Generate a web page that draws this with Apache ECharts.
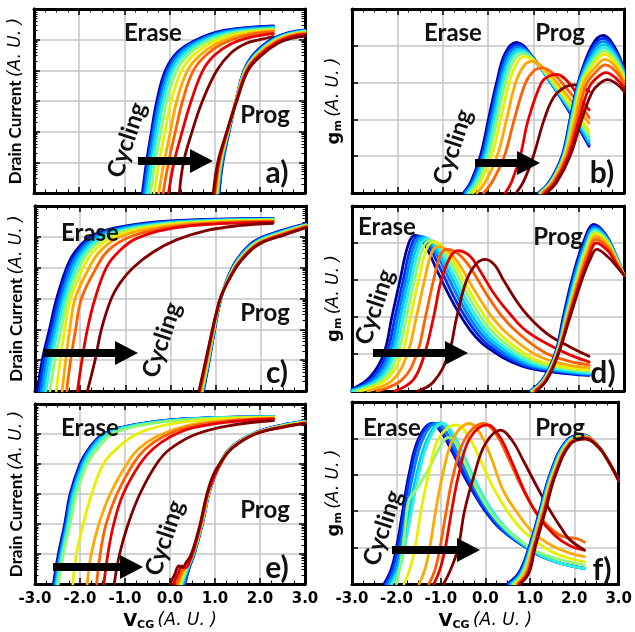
<!DOCTYPE html>
<html><head><meta charset="utf-8">
<script src="https://cdn.jsdelivr.net/npm/echarts@6/dist/echarts.min.js"></script>
<style>html,body{margin:0;padding:0;background:#fff}#c{width:635px;height:632px}</style>
</head><body><div id="c"></div>
<script>
const cycleColors = ['#00009c','#0030ff','#0080ff','#00c8ff','#30f0e0','#90f870','#e8f000','#ffa800','#ff6000','#e80000','#800000'];
const xTickLabels = ['-3.0','-2.0','-1.0','0.0','1.0','2.0','3.0'];

// Panel a: drain current (decades), erase / prog
const eraseA = [
 [[-0.60,0],[-0.51,1],[-0.40,2],[-0.28,3],[-0.09,4],[0.18,4.6],[0.6,5.0],[1.2,5.3],[2.3,5.45]],
 [[-0.58,0],[-0.49,1],[-0.38,2],[-0.25,3],[-0.06,4],[0.21,4.6],[0.63,4.99],[1.23,5.29],[2.3,5.43]],
 [[-0.55,0],[-0.46,1],[-0.35,2],[-0.22,3],[-0.02,4],[0.25,4.59],[0.67,4.98],[1.26,5.27],[2.3,5.41]],
 [[-0.52,0],[-0.42,1],[-0.31,2],[-0.18,3],[0.03,4],[0.3,4.58],[0.71,4.97],[1.3,5.25],[2.3,5.39]],
 [[-0.48,0],[-0.38,1],[-0.26,2],[-0.13,3],[0.08,4],[0.36,4.56],[0.77,4.95],[1.35,5.23],[2.3,5.37]],
 [[-0.42,0],[-0.32,1],[-0.19,2],[-0.06,3],[0.16,4],[0.44,4.54],[0.84,4.93],[1.41,5.21],[2.3,5.35]],
 [[-0.34,0],[-0.23,1],[-0.10,2],[0.04,3],[0.27,4],[0.55,4.52],[0.93,4.9],[1.48,5.18],[2.3,5.32]],
 [[-0.24,0],[-0.12,1],[0.02,2],[0.16,3],[0.40,4],[0.68,4.5],[1.04,4.87],[1.57,5.15],[2.3,5.29]],
 [[-0.14,0],[-0.02,1],[0.13,2],[0.29,3],[0.53,4],[0.81,4.5],[1.15,4.85],[1.65,5.12],[2.3,5.26]],
 [[-0.02,0],[0.10,1],[0.28,2],[0.48,3],[0.74,4],[1.0,4.5],[1.35,4.85],[1.8,5.08],[2.3,5.2]],
 [[0.22,0],[0.31,1],[0.50,2],[0.73,3],[1.05,4],[1.35,4.55],[1.7,4.88],[2.0,5.0],[2.3,5.1]]
];
const progA = [
 [[1.10,0],[1.18,1],[1.32,2],[1.47,3],[1.65,4],[1.88,4.55],[2.25,5.0],[2.62,5.22],[3.0,5.32]],
 [[1.09,0],[1.17,1],[1.31,2],[1.47,3],[1.66,4],[1.89,4.54],[2.26,4.99],[2.63,5.21],[3.0,5.31]],
 [[1.08,0],[1.16,1],[1.31,2],[1.47,3],[1.66,4],[1.9,4.53],[2.27,4.98],[2.64,5.2],[3.0,5.3]],
 [[1.07,0],[1.15,1],[1.30,2],[1.47,3],[1.67,4],[1.91,4.53],[2.28,4.97],[2.64,5.19],[3.0,5.29]],
 [[1.06,0],[1.14,1],[1.30,2],[1.47,3],[1.67,4],[1.92,4.52],[2.29,4.96],[2.65,5.18],[3.0,5.28]],
 [[1.05,0],[1.13,1],[1.29,2],[1.47,3],[1.68,4],[1.93,4.51],[2.3,4.95],[2.66,5.17],[3.0,5.26]],
 [[1.04,0],[1.12,1],[1.29,2],[1.47,3],[1.69,4],[1.94,4.5],[2.31,4.94],[2.67,5.15],[3.0,5.24]],
 [[1.02,0],[1.11,1],[1.28,2],[1.47,3],[1.70,4],[1.96,4.5],[2.33,4.93],[2.68,5.14],[3.0,5.22]],
 [[1.01,0],[1.10,1],[1.28,2],[1.48,3],[1.71,4],[1.97,4.49],[2.35,4.92],[2.69,5.12],[3.0,5.2]],
 [[0.99,0],[1.09,1],[1.27,2],[1.48,3],[1.72,4],[1.99,4.48],[2.37,4.9],[2.7,5.1],[3.0,5.17]],
 [[0.97,0],[1.07,1],[1.27,2],[1.49,3],[1.74,4],[2.02,4.47],[2.4,4.88],[2.72,5.05],[3.0,5.12]]
];

// Panel b: gm
const eraseB = [
 [[-0.54,0],[-0.38,0.3],[-0.17,1],[0.01,2],[0.19,3],[0.38,3.8],[0.63,4.09],[1.0,3.67],[1.44,2.9],[1.81,2.17],[2.23,1.27]],
 [[-0.52,0],[-0.36,0.3],[-0.14,1],[0.04,2],[0.22,3],[0.41,3.78],[0.65,4.03],[1.02,3.62],[1.46,2.86],[1.83,2.16],[2.23,1.3]],
 [[-0.50,0],[-0.33,0.3],[-0.11,1],[0.07,2],[0.25,3],[0.44,3.74],[0.67,3.97],[1.04,3.57],[1.48,2.83],[1.85,2.15],[2.23,1.34]],
 [[-0.47,0],[-0.30,0.3],[-0.08,1],[0.11,2],[0.29,3],[0.48,3.7],[0.70,3.91],[1.07,3.53],[1.5,2.82],[1.87,2.15],[2.23,1.4]],
 [[-0.44,0],[-0.27,0.3],[-0.04,1],[0.15,2],[0.33,3],[0.52,3.66],[0.73,3.85],[1.10,3.49],[1.52,2.81],[1.89,2.16],[2.23,1.47]],
 [[-0.40,0],[-0.22,0.3],[0.01,1],[0.20,2],[0.39,3],[0.58,3.62],[0.77,3.78],[1.14,3.45],[1.55,2.8],[1.91,2.18],[2.23,1.56]],
 [[-0.34,0],[-0.16,0.3],[0.08,1],[0.28,2],[0.47,3],[0.65,3.56],[0.82,3.7],[1.18,3.4],[1.58,2.8],[1.93,2.22],[2.23,1.68]],
 [[-0.25,0],[-0.06,0.3],[0.20,1],[0.41,2],[0.61,3],[0.80,3.47],[0.97,3.58],[1.3,3.3],[1.65,2.8],[1.97,2.3],[2.23,1.9]],
 [[-0.10,0],[0.09,0.3],[0.36,1],[0.58,2],[0.83,3],[1.02,3.33],[1.2,3.40],[1.48,3.2],[1.76,2.8],[2.03,2.4],[2.23,2.05]],
 [[0.38,0],[0.52,0.3],[0.71,1],[0.89,2],[1.18,3.0],[1.35,3.18],[1.52,3.22],[1.78,3.0],[1.98,2.65],[2.23,2.26]],
 [[0.62,0],[0.78,0.3],[1.0,1],[1.24,2],[1.45,2.6],[1.7,2.88],[1.92,2.94],[2.1,2.85],[2.23,2.76]]
];
const progB = [
 [[1.11,0],[1.35,0.3],[1.63,1],[1.81,2],[1.99,3],[2.29,4.0],[2.54,4.28],[2.8,3.95],[3.0,3.35]],
 [[1.12,0],[1.36,0.3],[1.64,1],[1.82,2],[2.0,3],[2.3,3.93],[2.55,4.2],[2.8,3.88],[3.0,3.32]],
 [[1.13,0],[1.37,0.3],[1.65,1],[1.83,2],[2.01,3],[2.31,3.86],[2.55,4.12],[2.8,3.82],[3.0,3.28]],
 [[1.14,0],[1.38,0.3],[1.66,1],[1.84,2],[2.02,3],[2.32,3.78],[2.56,4.03],[2.81,3.75],[3.0,3.24]],
 [[1.15,0],[1.39,0.3],[1.67,1],[1.85,2],[2.04,3],[2.33,3.7],[2.56,3.95],[2.81,3.68],[3.0,3.2]],
 [[1.16,0],[1.4,0.3],[1.68,1],[1.87,2],[2.06,3],[2.34,3.62],[2.57,3.86],[2.82,3.6],[3.0,3.15]],
 [[1.17,0],[1.41,0.3],[1.69,1],[1.89,2],[2.08,3],[2.35,3.54],[2.57,3.77],[2.82,3.52],[3.0,3.1]],
 [[1.19,0],[1.43,0.3],[1.71,1],[1.92,2],[2.12,3],[2.37,3.42],[2.58,3.63],[2.82,3.42],[3.0,3.02]],
 [[1.21,0],[1.45,0.3],[1.74,1],[1.96,2],[2.17,2.95],[2.39,3.3],[2.59,3.48],[2.82,3.3],[3.0,2.95]],
 [[1.25,0],[1.48,0.3],[1.77,1],[2.01,2],[2.24,2.9],[2.42,3.15],[2.6,3.27],[2.82,3.12],[3.0,2.85]],
 [[1.29,0],[1.52,0.3],[1.81,1],[2.07,2],[2.3,2.75],[2.47,2.98],[2.63,3.08],[2.83,2.97],[3.0,2.76]]
];

// Panel c: drain current
const eraseC = [
 [[-2.95,0],[-2.84,1],[-2.68,2],[-2.52,3],[-2.30,4],[-2.12,4.5],[-1.78,5.0],[-1.2,5.3],[0.0,5.52],[2.27,5.6]],
 [[-2.91,0],[-2.80,1],[-2.64,2],[-2.48,3],[-2.26,4],[-2.07,4.5],[-1.72,5.0],[-1.12,5.3],[0.05,5.5],[2.27,5.59]],
 [[-2.86,0],[-2.75,1],[-2.59,2],[-2.43,3],[-2.21,4],[-2.02,4.5],[-1.66,5.0],[-1.05,5.29],[0.1,5.49],[2.27,5.58]],
 [[-2.81,0],[-2.70,1],[-2.54,2],[-2.38,3],[-2.15,4],[-1.96,4.5],[-1.6,4.98],[-1.0,5.27],[0.15,5.48],[2.27,5.57]],
 [[-2.76,0],[-2.64,1],[-2.49,2],[-2.33,3],[-2.09,4],[-1.9,4.5],[-1.54,4.97],[-0.95,5.26],[0.2,5.47],[2.27,5.56]],
 [[-2.67,0],[-2.56,1],[-2.42,2],[-2.27,3],[-2.02,4],[-1.82,4.5],[-1.46,4.95],[-0.88,5.24],[0.25,5.46],[2.27,5.55]],
 [[-2.53,0],[-2.44,1],[-2.34,2],[-2.21,3],[-1.93,4],[-1.72,4.5],[-1.36,4.93],[-0.8,5.22],[0.3,5.44],[2.27,5.54]],
 [[-2.40,0],[-2.32,1],[-2.23,2],[-2.11,3],[-1.80,4],[-1.58,4.5],[-1.22,4.92],[-0.68,5.2],[0.4,5.42],[2.27,5.52]],
 [[-2.30,0],[-2.21,1],[-2.10,2],[-1.97,3],[-1.64,4],[-1.42,4.5],[-1.05,4.9],[-0.5,5.18],[0.5,5.4],[2.27,5.5]],
 [[-2.06,0],[-1.96,1],[-1.84,2],[-1.67,3],[-1.42,4],[-1.16,4.5],[-0.75,4.95],[0.06,5.28],[1.0,5.42],[2.27,5.48]],
 [[-1.84,0],[-1.67,1],[-1.53,2],[-1.31,3],[-1.12,3.5],[-0.83,4],[-0.39,4.5],[0.13,4.9],[0.79,5.2],[1.5,5.36],[2.27,5.44]]
];
const progC = [
 [[0.73,0],[0.86,1],[0.96,1.86],[1.04,2.5],[1.13,3.07],[1.29,3.75],[1.49,4.3],[1.85,4.85],[2.45,5.2],[3.0,5.42]],
 [[0.72,0],[0.85,1],[0.96,1.86],[1.04,2.5],[1.13,3.07],[1.29,3.75],[1.5,4.3],[1.86,4.84],[2.46,5.19],[3.0,5.41]],
 [[0.71,0],[0.85,1],[0.95,1.86],[1.03,2.5],[1.13,3.07],[1.3,3.74],[1.5,4.29],[1.87,4.83],[2.47,5.18],[3.0,5.4]],
 [[0.71,0],[0.84,1],[0.95,1.86],[1.03,2.5],[1.13,3.07],[1.3,3.74],[1.51,4.28],[1.88,4.82],[2.48,5.17],[3.0,5.39]],
 [[0.70,0],[0.84,1],[0.94,1.86],[1.03,2.5],[1.12,3.07],[1.31,3.73],[1.52,4.27],[1.89,4.81],[2.49,5.16],[3.0,5.38]],
 [[0.69,0],[0.83,1],[0.94,1.86],[1.02,2.5],[1.12,3.07],[1.31,3.73],[1.52,4.26],[1.9,4.8],[2.5,5.15],[3.0,5.37]],
 [[0.68,0],[0.82,1],[0.93,1.86],[1.02,2.5],[1.12,3.07],[1.31,3.72],[1.53,4.25],[1.91,4.79],[2.51,5.13],[3.0,5.36]],
 [[0.67,0],[0.81,1],[0.93,1.86],[1.02,2.5],[1.12,3.07],[1.32,3.72],[1.54,4.24],[1.92,4.78],[2.52,5.12],[3.0,5.35]],
 [[0.66,0],[0.80,1],[0.92,1.86],[1.01,2.5],[1.12,3.07],[1.32,3.71],[1.54,4.23],[1.93,4.77],[2.53,5.11],[3.0,5.33]],
 [[0.64,0],[0.79,1],[0.91,1.86],[1.01,2.5],[1.12,3.07],[1.33,3.71],[1.55,4.22],[1.94,4.76],[2.54,5.09],[3.0,5.31]],
 [[0.63,0],[0.78,1],[0.91,1.86],[1.01,2.5],[1.12,3.07],[1.33,3.7],[1.56,4.22],[1.95,4.75],[2.55,5.08],[3.0,5.3]]
];

// Panel d: gm
const eraseD = [
 [[-3.0,0.05],[-2.6,0.38],[-2.30,1.0],[-2.12,2.0],[-1.94,3.0],[-1.75,3.99],[-1.60,4.21],[-1.35,3.85],[-1.13,3.27],[-0.76,2.36],[-0.39,1.64],[-0.03,1.19],[0.71,0.69],[1.44,0.51],[2.23,0.42]],
 [[-3.0,0.03],[-2.55,0.36],[-2.24,1.0],[-2.05,2.0],[-1.87,3.0],[-1.68,3.97],[-1.52,4.19],[-1.28,3.86],[-1.05,3.3],[-0.69,2.4],[-0.32,1.68],[0.03,1.22],[0.75,0.71],[1.47,0.53],[2.23,0.43]],
 [[-3.0,0.02],[-2.5,0.34],[-2.18,1.0],[-1.99,2.0],[-1.81,3.0],[-1.62,3.95],[-1.46,4.18],[-1.22,3.87],[-0.98,3.33],[-0.62,2.44],[-0.26,1.72],[0.09,1.26],[0.79,0.74],[1.5,0.55],[2.23,0.45]],
 [[-3.0,0.01],[-2.45,0.32],[-2.12,1.0],[-1.93,2.0],[-1.75,3.0],[-1.56,3.93],[-1.40,4.15],[-1.16,3.88],[-0.92,3.36],[-0.56,2.48],[-0.2,1.76],[0.15,1.3],[0.84,0.77],[1.53,0.57],[2.23,0.47]],
 [[-2.98,0],[-2.4,0.3],[-2.06,1.0],[-1.87,2.0],[-1.69,3.0],[-1.50,3.91],[-1.34,4.12],[-1.1,3.88],[-0.86,3.38],[-0.5,2.52],[-0.14,1.8],[0.21,1.34],[0.89,0.8],[1.56,0.6],[2.23,0.5]],
 [[-2.9,0],[-2.33,0.3],[-1.99,1.0],[-1.80,2.0],[-1.62,3.0],[-1.43,3.88],[-1.27,4.08],[-1.03,3.87],[-0.79,3.4],[-0.43,2.56],[-0.07,1.85],[0.28,1.39],[0.94,0.84],[1.6,0.63],[2.23,0.53]],
 [[-2.82,0],[-2.25,0.3],[-1.90,1.0],[-1.71,2.0],[-1.53,3.0],[-1.35,3.85],[-1.20,4.03],[-0.96,3.85],[-0.72,3.42],[-0.36,2.6],[0.0,1.9],[0.35,1.44],[1.0,0.88],[1.64,0.66],[2.23,0.57]],
 [[-2.65,0],[-2.1,0.3],[-1.78,1.0],[-1.58,2.0],[-1.40,3.0],[-1.24,3.75],[-1.10,3.9],[-0.85,3.75],[-0.6,3.35],[-0.24,2.6],[0.12,1.95],[0.47,1.5],[1.1,0.95],[1.7,0.72],[2.23,0.63]],
 [[-2.45,0],[-1.9,0.3],[-1.57,1.0],[-1.38,2.0],[-1.20,3.0],[-1.04,3.7],[-0.90,3.83],[-0.65,3.7],[-0.4,3.35],[-0.05,2.65],[0.3,2.03],[0.65,1.58],[1.25,1.04],[1.8,0.8],[2.23,0.71]],
 [[-2.05,0],[-1.65,0.3],[-1.40,1.0],[-1.20,2.0],[-1.03,3.0],[-0.82,3.65],[-0.65,3.79],[-0.4,3.65],[-0.2,3.3],[0.15,2.6],[0.5,2.06],[0.85,1.62],[1.44,1.19],[1.9,0.93],[2.23,0.79]],
 [[-1.55,0],[-1.2,0.25],[-0.87,1.0],[-0.69,2.0],[-0.47,3.0],[-0.25,3.45],[-0.06,3.56],[0.15,3.4],[0.34,3.0],[0.78,2.18],[1.30,1.55],[1.81,1.19],[2.23,0.94]]
];
const progD = [
 [[0.93,0],[1.2,0.3],[1.48,1],[1.66,2],[1.85,3],[2.1,4.0],[2.34,4.5],[2.6,4.22],[2.8,3.72],[3.0,3.13]],
 [[0.94,0],[1.21,0.3],[1.49,1],[1.68,2],[1.87,3],[2.12,3.98],[2.35,4.46],[2.61,4.19],[2.81,3.7],[3.0,3.13]],
 [[0.95,0],[1.22,0.3],[1.5,1],[1.69,2],[1.89,3],[2.13,3.95],[2.35,4.42],[2.61,4.16],[2.81,3.68],[3.0,3.13]],
 [[0.96,0],[1.23,0.3],[1.5,1],[1.71,2],[1.91,3],[2.15,3.93],[2.36,4.38],[2.62,4.12],[2.82,3.65],[3.0,3.13]],
 [[0.97,0],[1.23,0.3],[1.51,1],[1.72,2],[1.93,3],[2.16,3.9],[2.36,4.34],[2.62,4.09],[2.82,3.62],[3.0,3.13]],
 [[0.98,0],[1.24,0.3],[1.52,1],[1.73,2],[1.95,3],[2.17,3.87],[2.37,4.3],[2.63,4.05],[2.83,3.58],[3.0,3.13]],
 [[0.99,0],[1.25,0.3],[1.52,1],[1.74,2],[1.97,3],[2.18,3.83],[2.37,4.25],[2.63,4.01],[2.83,3.55],[3.0,3.13]],
 [[1.01,0],[1.26,0.3],[1.53,1],[1.76,2],[1.99,3],[2.2,3.78],[2.38,4.18],[2.64,3.95],[2.84,3.5],[3.0,3.13]],
 [[1.03,0],[1.27,0.3],[1.54,1],[1.77,2],[2.01,3],[2.21,3.72],[2.38,4.1],[2.64,3.88],[2.84,3.45],[3.0,3.13]],
 [[1.05,0],[1.29,0.3],[1.55,1],[1.79,2],[2.04,3],[2.23,3.65],[2.39,4.0],[2.65,3.78],[2.85,3.4],[3.0,3.13]],
 [[1.07,0],[1.3,0.3],[1.55,1],[1.81,2],[2.07,3],[2.25,3.55],[2.4,3.83],[2.65,3.62],[2.85,3.35],[3.0,3.13]]
];

// Panel e: drain current
const eraseE = [
 [[-2.59,0],[-2.48,1],[-2.34,2],[-2.22,3],[-2.0,4],[-1.81,4.5],[-1.48,5.0],[-0.81,5.3],[0.3,5.5],[2.3,5.58]],
 [[-2.57,0],[-2.46,1],[-2.32,2],[-2.2,3],[-1.98,4],[-1.79,4.5],[-1.46,5.0],[-0.79,5.3],[0.3,5.5],[2.3,5.58]],
 [[-2.55,0],[-2.44,1],[-2.30,2],[-2.18,3],[-1.96,4],[-1.77,4.5],[-1.44,5.0],[-0.77,5.3],[0.32,5.5],[2.3,5.57]],
 [[-2.53,0],[-2.42,1],[-2.28,2],[-2.16,3],[-1.93,4],[-1.74,4.5],[-1.41,5.0],[-0.74,5.3],[0.34,5.49],[2.3,5.57]],
 [[-2.51,0],[-2.40,1],[-2.26,2],[-2.13,3],[-1.9,4],[-1.7,4.5],[-1.37,5.0],[-0.7,5.3],[0.36,5.49],[2.3,5.57]],
 [[-2.48,0],[-2.37,1],[-2.22,2],[-2.08,3],[-1.84,4],[-1.62,4.5],[-1.28,5.0],[-0.6,5.3],[0.4,5.48],[2.3,5.56]],
 [[-2.16,0],[-2.08,1],[-1.93,2],[-1.74,3],[-1.48,4],[-1.19,4.5],[-0.74,5.0],[-0.1,5.3],[0.8,5.47],[2.3,5.55]],
 [[-1.84,0],[-1.75,1],[-1.58,2],[-1.33,3],[-0.96,4],[-0.7,4.5],[-0.3,4.92],[0.3,5.25],[1.1,5.43],[2.3,5.53]],
 [[-1.63,0],[-1.55,1],[-1.42,2],[-1.18,3],[-0.82,4],[-0.55,4.5],[-0.15,4.92],[0.4,5.23],[1.2,5.42],[2.3,5.52]],
 [[-1.47,0],[-1.38,1],[-1.25,2],[-1.04,3],[-0.67,4],[-0.38,4.5],[0.0,4.9],[0.5,5.2],[1.3,5.4],[2.3,5.5]],
 [[-1.24,0],[-1.12,1],[-0.93,2],[-0.67,3],[-0.30,4],[0.0,4.5],[0.59,5.0],[1.4,5.3],[2.3,5.45]]
];
const progE = [
 [[0.33,0],[0.42,0.5],[0.54,1],[0.72,2],[0.86,3],[0.97,3.5],[1.11,4],[1.32,4.5],[1.83,5],[2.5,5.3],[3.0,5.42]],
 [[0.32,0],[0.41,0.5],[0.53,1],[0.72,2],[0.86,3],[0.97,3.5],[1.11,4],[1.32,4.5],[1.83,5],[2.5,5.3],[3.0,5.42]],
 [[0.3,0],[0.4,0.5],[0.53,1],[0.71,2],[0.86,3],[0.97,3.5],[1.11,4],[1.33,4.5],[1.84,5],[2.51,5.29],[3.0,5.41]],
 [[0.28,0],[0.39,0.5],[0.52,1],[0.71,2],[0.86,3],[0.97,3.5],[1.11,4],[1.33,4.5],[1.84,5],[2.51,5.29],[3.0,5.41]],
 [[0.26,0],[0.38,0.5],[0.52,1],[0.71,2],[0.85,3],[0.96,3.5],[1.11,4],[1.33,4.5],[1.85,5],[2.52,5.28],[3.0,5.4]],
 [[0.24,0],[0.36,0.5],[0.51,1],[0.7,2],[0.85,3],[0.96,3.5],[1.11,4],[1.34,4.5],[1.85,5],[2.52,5.28],[3.0,5.4]],
 [[0.22,0],[0.34,0.5],[0.5,1],[0.7,2],[0.85,3],[0.96,3.5],[1.11,4],[1.34,4.5],[1.86,5],[2.53,5.27],[3.0,5.39]],
 [[0.19,0],[0.3,0.45],[0.42,0.7],[0.5,1],[0.69,2],[0.84,3],[0.96,3.5],[1.12,4],[1.35,4.5],[1.87,5],[2.54,5.26],[3.0,5.38]],
 [[0.15,0],[0.25,0.4],[0.35,0.55],[0.45,0.85],[0.52,1.1],[0.69,2],[0.84,3],[0.96,3.5],[1.12,4],[1.35,4.5],[1.88,5],[2.55,5.25],[3.0,5.37]],
 [[0.08,0],[0.18,0.35],[0.28,0.6],[0.35,0.55],[0.45,0.8],[0.54,1.2],[0.68,2],[0.83,3],[0.96,3.5],[1.12,4],[1.36,4.5],[1.89,5],[2.56,5.24],[3.0,5.36]],
 [[0.0,0],[0.1,0.3],[0.2,0.6],[0.28,0.55],[0.36,0.72],[0.46,0.95],[0.6,1.6],[0.7,2.2],[0.82,3],[0.95,3.6],[1.12,4.05],[1.4,4.55],[1.9,5],[2.55,5.25],[3.0,5.35]]
];

// Panel f: gm
const eraseF = [
 [[-2.28,0],[-2.12,0.4],[-2.0,1],[-1.86,2],[-1.72,3],[-1.5,4],[-1.2,4.41],[-0.98,4.15],[-0.76,3.67],[-0.39,2.77],[-0.03,2.05],[0.34,1.51],[1.07,0.88],[1.59,0.61],[2.23,0.43]],
 [[-2.25,0],[-2.09,0.4],[-1.97,1],[-1.83,2],[-1.69,3],[-1.47,4],[-1.17,4.42],[-0.95,4.16],[-0.73,3.68],[-0.36,2.76],[0.0,2.03],[0.37,1.49],[1.1,0.87],[1.62,0.6],[2.23,0.43]],
 [[-2.2,0],[-2.04,0.4],[-1.92,1],[-1.78,2],[-1.63,3],[-1.4,4],[-1.1,4.42],[-0.88,4.18],[-0.67,3.7],[-0.31,2.78],[0.05,2.03],[0.42,1.48],[1.12,0.85],[1.64,0.59],[2.23,0.42]],
 [[-2.15,0],[-1.98,0.4],[-1.86,1],[-1.71,2],[-1.55,3],[-1.3,4],[-1.0,4.43],[-0.8,4.2],[-0.6,3.73],[-0.25,2.8],[0.1,2.04],[0.46,1.48],[1.15,0.84],[1.66,0.58],[2.23,0.42]],
 [[-2.1,0],[-1.94,0.4],[-1.82,1],[-1.66,2],[-1.5,3],[-1.25,4],[-0.96,4.42],[-0.76,4.2],[-0.56,3.74],[-0.22,2.82],[0.13,2.06],[0.5,1.5],[1.18,0.85],[1.68,0.58],[2.23,0.43]],
 [[-2.0,0],[-1.9,0.6],[-1.8,1.6],[-1.72,2.3],[-1.55,2.6],[-1.3,3.1],[-1.05,3.7],[-0.83,4.03],[-0.65,3.85],[-0.45,3.3],[-0.1,2.4],[0.3,1.7],[1.0,1.0],[1.6,0.7],[2.23,0.52]],
 [[-1.83,0],[-1.7,0.4],[-1.58,1],[-1.45,2],[-1.28,3],[-1.05,4],[-0.65,4.37],[-0.4,4.1],[-0.15,3.5],[0.2,2.6],[0.55,1.9],[0.9,1.4],[1.4,0.95],[1.85,0.72],[2.23,0.61]],
 [[-1.49,0],[-1.36,0.4],[-1.25,1],[-1.12,2],[-0.96,3],[-0.72,4],[-0.36,4.41],[-0.1,4.1],[0.15,3.4],[0.41,2.55],[0.75,1.9],[1.07,1.42],[1.5,1.05],[1.9,0.85],[2.23,0.75]],
 [[-1.27,0],[-1.13,0.4],[-1.02,1],[-0.88,2],[-0.72,3],[-0.45,4],[-0.03,4.41],[0.25,4.1],[0.5,3.5],[0.8,2.7],[1.1,2.05],[1.45,1.55],[1.8,1.28],[2.05,1.25],[2.23,1.15]],
 [[-1.16,0],[-1.02,0.4],[-0.9,1],[-0.76,2],[-0.6,3],[-0.35,4],[0.05,4.37],[0.32,4.05],[0.58,3.4],[0.9,2.5],[1.2,1.85],[1.55,1.35],[1.9,1.05],[2.23,0.93]],
 [[-0.94,0],[-0.78,0.4],[-0.61,1],[-0.47,2],[-0.25,3],[0.0,3.85],[0.34,4.23],[0.6,3.95],[0.85,3.4],[1.15,2.7],[1.44,2.05],[1.7,1.55],[1.88,1.24],[2.23,0.93]]
];
const progF = [
 [[0.49,0],[0.75,0.3],[0.98,1],[1.22,2],[1.45,3],[1.8,3.9],[2.17,4.1],[2.5,3.85],[2.75,3.4],[3.0,2.84]],
 [[0.52,0],[0.77,0.3],[0.99,1],[1.23,2],[1.46,3],[1.81,3.9],[2.18,4.1],[2.51,3.84],[2.75,3.39],[3.0,2.84]],
 [[0.55,0],[0.79,0.3],[1.0,1],[1.24,2],[1.47,3],[1.82,3.89],[2.19,4.09],[2.51,3.83],[2.76,3.38],[3.0,2.84]],
 [[0.58,0],[0.81,0.3],[1.02,1],[1.25,2],[1.48,3],[1.83,3.89],[2.19,4.08],[2.52,3.82],[2.76,3.38],[3.0,2.84]],
 [[0.61,0],[0.83,0.3],[1.03,1],[1.26,2],[1.5,3],[1.84,3.88],[2.2,4.07],[2.52,3.81],[2.76,3.37],[3.0,2.84]],
 [[0.64,0],[0.85,0.3],[1.04,1],[1.27,2],[1.51,3],[1.85,3.88],[2.21,4.06],[2.53,3.8],[2.77,3.37],[3.0,2.84]],
 [[0.67,0],[0.88,0.3],[1.06,1],[1.29,2],[1.52,3],[1.87,3.87],[2.22,4.05],[2.53,3.79],[2.77,3.36],[3.0,2.84]],
 [[0.7,0],[0.9,0.3],[1.07,1],[1.3,2],[1.54,3],[1.88,3.87],[2.23,4.04],[2.54,3.78],[2.77,3.36],[3.0,2.84]],
 [[0.73,0],[0.93,0.3],[1.09,1],[1.32,2],[1.55,3],[1.9,3.86],[2.24,4.02],[2.54,3.77],[2.78,3.35],[3.0,2.84]],
 [[0.76,0],[0.96,0.3],[1.1,1],[1.33,2],[1.57,3],[1.91,3.86],[2.25,4.0],[2.55,3.76],[2.78,3.35],[3.0,2.84]],
 [[0.78,0],[0.98,0.3],[1.12,1],[1.35,2],[1.58,3],[1.92,3.85],[2.25,3.98],[2.55,3.75],[2.78,3.35],[3.0,2.84]]
];

const panels = [
 {letter:'a)', kind:'drain', erase:eraseA, prog:progA, rect:{left:34,top:9,width:271,height:184}, xLabels:false,
  erasePos:[153,33], progPos:[265,115], cyclePos:[127,140], arrow:[138,213,161], letterPos:[277,173]},
 {letter:'b)', kind:'gm', erase:eraseB, prog:progB, rect:{left:352,top:9,width:272,height:184}, xLabels:false,
  erasePos:[453,33], progPos:[560,33], cyclePos:[453,147], arrow:[475,540,163], letterPos:[602,173]},
 {letter:'c)', kind:'drain', erase:eraseC, prog:progC, rect:{left:35,top:206,width:271,height:185}, xLabels:false,
  erasePos:[90,233], progPos:[265,313], cyclePos:[162,340], arrow:[43,138,353], letterPos:[277,373]},
 {letter:'d)', kind:'gm', erase:eraseD, prog:progD, rect:{left:352,top:206,width:272,height:185}, xLabels:false,
  erasePos:[387,227], progPos:[558,237], cyclePos:[375,307], arrow:[373,468,353], letterPos:[603,373]},
 {letter:'e)', kind:'drain', erase:eraseE, prog:progE, rect:{left:35,top:404,width:270,height:184}, xLabels:true,
  erasePos:[90,428], progPos:[265,510], cyclePos:[165,538], arrow:[53,143,567], letterPos:[277,568]},
 {letter:'f)', kind:'gm', erase:eraseF, prog:progF, rect:{left:352,top:402,width:272,height:186}, xLabels:true,
  erasePos:[392,428], progPos:[560,428], cyclePos:[383,528], arrow:[392,480,550], letterPos:[602,570]}
];

const BLACK = '#000';
const grid = [], xAxis = [], yAxis = [], series = [], graphic = [];
const lineBlack = {show:true, onZero:false, lineStyle:{color:BLACK, width:3}};
panels.forEach((p, k) => {
  grid.push(Object.assign({containLabel:false}, p.rect));
  const xBottom = xAxis.length;
  xAxis.push({
    gridIndex:k, type:'value', min:-3, max:3, interval:1, position:'bottom',
    axisLine:lineBlack,
    axisTick:{show:true, inside:true, length:6, lineStyle:{color:BLACK, width:1.5}},
    minorTick:{show:true, splitNumber:4, length:3.5, lineStyle:{color:BLACK, width:1}},
    splitLine:{show:true, showMinLine:false, showMaxLine:false, lineStyle:{color:'#c4c4c4', width:1.5}},
    axisLabel:{show:p.xLabels, margin:8, color:BLACK, fontFamily:'DejaVu Sans', fontWeight:'bold', fontSize:15,
      formatter:(v, i) => xTickLabels[i]},
    name: p.xLabels ? '{v|V}{s|CG} {i|(A. U. )}' : '', nameLocation:'middle', nameGap:27,
    nameTextStyle:{rich:{
      v:{fontFamily:'DejaVu Sans', fontWeight:'bold', fontSize:18, color:BLACK, lineHeight:20},
      s:{fontFamily:'DejaVu Sans', fontWeight:'bold', fontSize:11, color:BLACK, verticalAlign:'bottom', lineHeight:14},
      i:{fontFamily:'DejaVu Sans', fontStyle:'italic', fontSize:17, color:BLACK, lineHeight:20}
    }}
  });
  xAxis.push({
    gridIndex:k, type:'value', min:-3, max:3, interval:1, position:'top',
    axisLine:lineBlack,
    axisTick:{show:true, inside:true, length:6, lineStyle:{color:BLACK, width:1.5}},
    minorTick:{show:true, splitNumber:4, length:3.5, lineStyle:{color:BLACK, width:1}},
    splitLine:{show:false}, axisLabel:{show:false}
  });
  const yMax = p.kind === 'drain' ? 6 : 5;
  const yName = p.kind === 'drain' ? '{b|Drain Current} {i|(A. U. )}' : '{g|g}{m|m} {i|(A. U. )}';
  const yMain = yAxis.length;
  yAxis.push({
    gridIndex:k, type:'value', min:0, max:yMax, interval:1, position:'left',
    axisLine:lineBlack,
    axisTick:{show:p.kind === 'gm', inside:true, length:6, lineStyle:{color:BLACK, width:1.5}},
    splitLine:{show:true, showMinLine:false, showMaxLine:false, lineStyle:{color:'#c4c4c4', width:1.5}},
    axisLabel:{show:false},
    name:yName, nameLocation:'middle', nameRotate:90, nameGap:8,
    nameTextStyle:{rich:{
      b:{fontFamily:'Lato', fontWeight:'bold', fontSize:17, color:BLACK, lineHeight:20},
      g:{fontFamily:'DejaVu Sans', fontWeight:'bold', fontSize:18, color:BLACK, lineHeight:20},
      m:{fontFamily:'DejaVu Sans', fontWeight:'bold', fontSize:11, color:BLACK, verticalAlign:'bottom', lineHeight:13},
      i:{fontFamily:'DejaVu Sans', fontStyle:'italic', fontSize:17, color:BLACK, lineHeight:20}
    }}
  });
  if (p.kind === 'drain') {
    ['left','right'].forEach(pos => yAxis.push({
      gridIndex:k, type:'log', logBase:10, min:1, max:1000000, position:pos, offset:0,
      axisLine:lineBlack,
      axisTick:{show:true, inside:true, length:6, lineStyle:{color:BLACK, width:1.5}},
      minorTick:{show:true, splitNumber:9, length:3.5, lineStyle:{color:BLACK, width:1}},
      splitLine:{show:false}, axisLabel:{show:false}
    }));
  } else {
    yAxis.push({gridIndex:k, type:'value', min:0, max:yMax, position:'right',
      axisLine:lineBlack, axisTick:{show:false}, splitLine:{show:false}, axisLabel:{show:false}});
  }
  const addCurves = (curves) => curves.forEach((c, i) => series.push({
    type:'line', xAxisIndex:xBottom, yAxisIndex:yMain, data:c, showSymbol:false, symbol:'none',
    smooth:0.4, silent:true, z:2,
    lineStyle:{color:cycleColors[i], width:2.8, cap:'round', join:'round'}
  }));
  addCurves(p.erase);
  addCurves(p.prog);

  const txt = (pos, text, size, rot) => graphic.push({type:'text', x:pos[0], y:pos[1], rotation:rot || 0, z:100,
    style:{text:text, fill:'#111', font:'bold ' + size + 'px Lato', align:'center', verticalAlign:'middle',
      textAlign:'center', textVerticalAlign:'middle'}});
  txt(p.erasePos, 'Erase', 24);
  txt(p.progPos, 'Prog', 24);
  txt(p.cyclePos, 'Cycling', 24, 1.25);
  txt(p.letterPos, p.letter, 30);
  const [x1, tip, ay] = p.arrow;
  const hb = tip - 23;
  graphic.push({type:'polygon', z:100, shape:{points:[[x1,ay-4],[hb,ay-4],[hb,ay-12],[tip,ay],[hb,ay+12],[hb,ay+4],[x1,ay+4]]},
    style:{fill:'#000'}});
});

const chart = echarts.init(document.getElementById('c'), null, {renderer:'canvas'});
chart.setOption({animation:false, backgroundColor:'#fff', grid, xAxis, yAxis, series, graphic});
</script></body></html>
